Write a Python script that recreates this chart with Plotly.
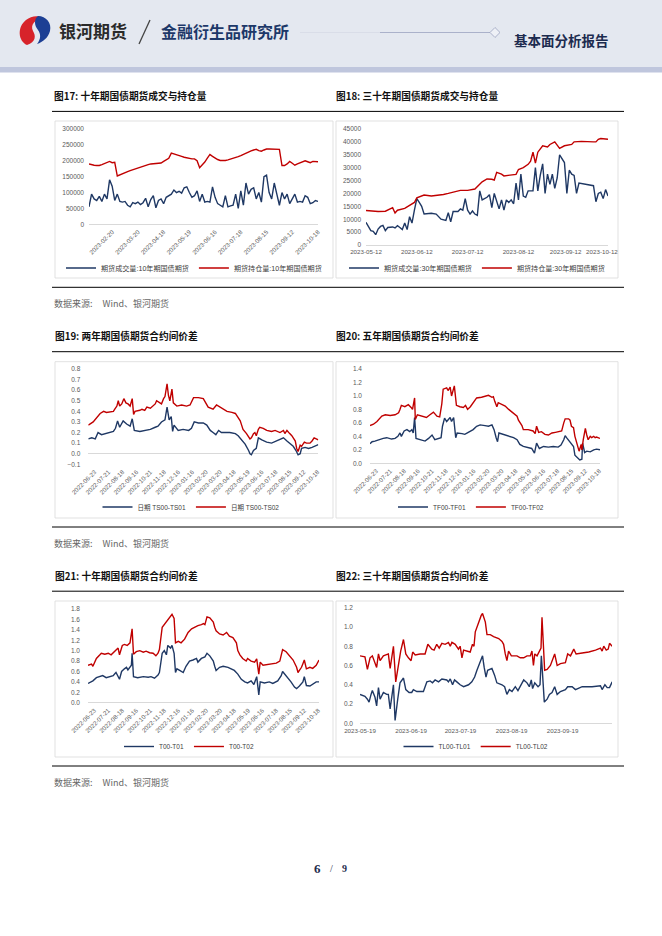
import plotly.graph_objects as go

W, H = 662, 936
def X(p): return p / W
def Y(p): return 1 - p / H

BLUE = '#1f3864'
RED = '#c00000'
FONT = 'Liberation Sans, Noto Sans CJK SC'
CJK = 'Noto Sans CJK SC'

# ---------------- data ----------------
# Fig 17 : 10Y futures volume / open interest (every 2nd trading day)
labels17 = ["2023-02-20", "2023-03-20", "2023-04-18", "2023-05-19", "2023-06-16",
            "2023-07-18", "2023-08-15", "2023-09-12", "2023-10-18"]
tickpos17 = [18, 38, 58, 78, 98, 118, 138, 158, 178]
vol17 = [55, 95, 80, 75, 88, 72, 95, 80, 140, 120,
         75, 95, 72, 70, 72, 60, 55, 68, 65, 70,
         62, 68, 82, 55, 78, 90, 52, 75, 80, 65,
         85, 90, 95, 108, 100, 104, 98, 115, 118, 100,
         85, 90, 105, 72, 95, 70, 72, 70, 118, 85,
         65, 60, 55, 90, 55, 58, 60, 95, 50, 105,
         60, 130, 95, 110, 115, 80, 100, 70, 150, 155,
         100, 80, 130, 95, 60, 100, 80, 95, 65, 80,
         95, 70, 72, 70, 90, 85, 65, 68, 75, 72]
oi17 = [190, 187, 186, 185, 185, 188, 192, 196, 198, 194,
        195, 152, 156, 160, 163, 166, 169, 172, 175, 178,
        181, 184, 186, 188, 190, 191, 193, 193, 193, 198,
        203, 208, 224, 222, 220, 217, 214, 211, 209, 207,
        206, 206, 200, 178, 186, 196, 208, 220, 214, 208,
        204, 201, 200, 201, 203, 205, 207, 210, 213, 216,
        220, 225, 228, 231, 234, 236, 232, 230, 234, 237,
        237, 237, 236, 237, 236, 185, 185, 190, 198, 192,
        186, 190, 194, 197, 200, 197, 194, 198, 197, 197]
vol17 = [v * 1000 for v in vol17]
oi17 = [v * 1000 for v in oi17]

# Fig 18 : 30Y futures volume / open interest (trading-day index)
labels18 = ["2023-05-12", "2023-06-12", "2023-07-12", "2023-08-12", "2023-09-12", "2023-10-12"]
tickpos18 = [0, 21, 42, 63, 82.5, 97.5]
day18b = [0, 1, 2, 3, 4, 5, 6, 7, 8, 9, 10, 11, 12, 13, 14, 15, 16, 17, 18, 19, 20, 21, 22, 23, 24,
          27, 29, 30, 31, 33, 34, 35, 36, 38, 39, 40, 41, 42, 43, 44, 45, 46, 47, 48, 50, 51, 52,
          53, 54, 55, 56, 57, 58, 59, 60, 61, 62, 63, 64, 65, 66, 67, 68, 69, 70, 71, 72, 73, 74,
          75, 76, 77, 78, 79, 80, 81, 82, 83, 84, 85, 86, 87, 88, 94, 95, 96, 97, 98, 99, 100]
vol18 = [8800, 7200, 5600, 5300, 4000, 6200, 7200, 7600, 5600, 6800, 7000, 7000, 6600, 7500, 6800,
         6000, 8500, 6000, 11000, 8500, 13500, 18000, 16500, 15000, 12000,
         12300, 12000, 11000, 10000, 9500, 12500, 9000, 13000, 13000, 14000, 13500, 18000, 13500,
         12000, 13200, 12000, 11500, 21000, 17500, 18500, 19500, 14500,
         20000, 17000, 14000, 17500, 13500, 17500, 16500, 17500, 16000, 24000, 17500, 27500, 19000,
         18500, 21000, 21000, 21000, 30000, 21000, 27000, 31500, 20000,
         27500, 23500, 27500, 22000, 26000, 35000, 33500, 32000, 20000, 29000, 27500, 27000, 20000,
         24000, 23000, 16800, 20000, 20500, 18000, 21500, 19000]
day18r = [0, 5, 8, 10, 11, 12, 13, 16, 18, 20, 21, 22, 24, 27, 30, 32, 34, 37, 39, 42,
          45, 48, 50, 52, 53, 54, 56, 57, 60, 62, 63, 65, 67, 68, 69, 70, 71, 73, 75, 76,
          78, 79, 80, 82, 85, 86, 89, 94, 95, 96, 97, 100]
oi18 = [13400, 13000, 13100, 14200, 14500, 12400, 13500, 14200, 15200, 16500,
        18300, 18700, 19400, 19000, 19200, 19600, 20000, 20700, 21200, 21200,
        21700, 24500, 25600, 25500, 25200, 28200, 27500, 26800, 27000, 27400,
        29300, 30000, 31300, 32500, 36000, 31800, 36000, 38500, 38000, 39000,
        40000, 38500, 37500, 38500, 39000, 40000, 40200, 40000, 40000, 41000,
        41300, 41000]

# Figs 19-21 share the same date labels (trading-day index)
labels_sp = ["2022-06-23", "2022-07-21", "2022-08-18", "2022-09-16", "2022-10-21", "2022-11-18",
             "2022-12-16", "2023-01-16", "2023-02-20", "2023-03-20", "2023-04-18", "2023-05-19",
             "2023-06-16", "2023-07-18", "2023-08-15", "2023-09-12", "2023-10-18"]
tickpos_sp = [9, 29, 49, 69, 89, 109, 129, 149, 169, 189, 209, 229, 249, 269, 289, 309, 329]

# Fig 19 : TS spreads
day19b = [0, 5, 10, 14, 19, 26, 36, 39, 42, 45, 50, 55, 60, 63, 66, 74, 84, 89, 96, 100,
          105, 110, 113, 116, 119, 121, 123, 129, 136, 144, 148, 152, 158, 165, 170, 175, 179, 183, 187, 191,
          203, 211, 215, 220, 225, 230, 232, 234, 237, 241, 244, 249, 256, 263, 270, 275, 280, 285, 289, 294,
          298, 301, 304, 306, 311, 316, 321, 325, 328, 330]
ts01 = [0.14, 0.15, 0.14, 0.20, 0.18, 0.19, 0.21, 0.24, 0.31, 0.25, 0.31, 0.28, 0.26, 0.33, 0.22, 0.21, 0.22, 0.23, 0.25, 0.26,
        0.30, 0.32, 0.44, 0.32, 0.35, 0.21, 0.27, 0.22, 0.23, 0.22, 0.24, 0.30, 0.29, 0.29, 0.27, 0.22, 0.20, 0.18, 0.22, 0.20,
        0.20, 0.19, 0.17, 0.13, 0.09, 0.03, 0.00, -0.01, 0.03, 0.05, 0.15, 0.13, 0.11, 0.10, 0.12, 0.14, 0.15, 0.12, 0.10, 0.07,
        0.03, -0.01, 0.00, 0.05, 0.06, 0.05, 0.06, 0.07, 0.08, 0.085]
day19r = [0, 5, 7, 17, 22, 26, 36, 38, 41, 43, 45, 48, 51, 54, 57, 60, 63, 65, 67, 74,
          77, 81, 84, 89, 96, 98, 103, 105, 108, 110, 113, 115, 117, 120, 122, 127, 134, 141, 146, 151,
          158, 165, 172, 179, 184, 189, 194, 199, 206, 211, 215, 218, 220, 222, 227, 232, 234, 237, 239, 241,
          244, 246, 251, 256, 263, 268, 275, 280, 282, 285, 289, 292, 297, 299, 301, 304, 306, 310, 313, 318,
          321, 324, 327, 330]
ts02 = [0.27, 0.29, 0.30, 0.38, 0.40, 0.39, 0.40, 0.42, 0.45, 0.50, 0.45, 0.47, 0.52, 0.48, 0.47, 0.45, 0.52, 0.37, 0.40, 0.41,
        0.42, 0.41, 0.44, 0.43, 0.47, 0.50, 0.48, 0.47, 0.52, 0.54, 0.66, 0.55, 0.50, 0.61, 0.48, 0.45, 0.46, 0.45, 0.46, 0.53,
        0.53, 0.52, 0.44, 0.42, 0.46, 0.44, 0.42, 0.40, 0.39, 0.38, 0.34, 0.31, 0.27, 0.23, 0.19, 0.14, 0.15, 0.19, 0.20, 0.17,
        0.23, 0.25, 0.24, 0.22, 0.21, 0.22, 0.20, 0.22, 0.19, 0.22, 0.19, 0.17, 0.12, 0.05, 0.02, 0.08, 0.07, 0.11, 0.10, 0.10,
        0.12, 0.15, 0.14, 0.13]

# Fig 20 : TF spreads
day20b = [0, 3, 7, 14, 19, 24, 31, 36, 40, 43, 45, 49, 53, 57, 60, 62, 64, 66, 72, 79,
          84, 89, 93, 99, 102, 104, 107, 110, 115, 117, 120, 123, 125, 132, 136, 141, 148, 153, 158, 165,
          170, 175, 178, 181, 183, 185, 191, 199, 206, 211, 215, 220, 227, 232, 236, 239, 243, 249, 256, 263,
          270, 274, 278, 280, 282, 285, 289, 292, 294, 298, 301, 304, 305, 308, 311, 316, 321, 325, 330]
tf01 = [0.29, 0.32, 0.33, 0.36, 0.37, 0.38, 0.36, 0.37, 0.40, 0.45, 0.40, 0.48, 0.50, 0.47, 0.50, 0.45, 0.68, 0.37, 0.35, 0.33,
        0.37, 0.42, 0.35, 0.37, 0.38, 0.55, 0.67, 0.62, 0.68, 0.62, 0.68, 0.38, 0.45, 0.44, 0.43, 0.46, 0.50, 0.55, 0.57, 0.56,
        0.55, 0.57, 0.50, 0.38, 0.32, 0.45, 0.43, 0.40, 0.38, 0.35, 0.28, 0.25, 0.23, 0.22, 0.15, 0.30, 0.22, 0.25, 0.24, 0.25,
        0.24, 0.27, 0.35, 0.41, 0.38, 0.34, 0.30, 0.25, 0.12, 0.08, 0.05, 0.06, 0.30, 0.16, 0.18, 0.17, 0.20, 0.21, 0.20]
day20r = [0, 5, 10, 17, 22, 29, 36, 41, 43, 45, 50, 55, 59, 61, 64, 65, 68, 74, 81, 86,
          91, 96, 100, 103, 105, 110, 112, 115, 117, 121, 123, 124, 129, 134, 137, 140, 144, 148, 153, 160,
          165, 170, 175, 177, 179, 182, 184, 189, 194, 199, 203, 208, 211, 213, 218, 220, 227, 234, 237, 239,
          242, 246, 251, 256, 261, 266, 270, 275, 278, 280, 285, 287, 289, 292, 294, 299, 300, 303, 304, 306,
          309, 311, 313, 316, 318, 321, 323, 325, 330]
tf02 = [0.56, 0.58, 0.62, 0.70, 0.72, 0.71, 0.72, 0.75, 0.80, 0.86, 0.84, 0.87, 0.83, 0.80, 0.97, 0.65, 0.72, 0.70, 0.68, 0.72,
        0.76, 0.70, 0.69, 0.88, 1.10, 1.12, 1.08, 1.13, 1.00, 1.15, 0.95, 0.86, 0.84, 0.83, 0.86, 0.80, 0.84, 0.90, 0.97, 0.98,
        0.99, 1.01, 0.98, 0.99, 0.92, 0.84, 0.90, 0.87, 0.85, 0.80, 0.77, 0.72, 0.70, 0.64, 0.56, 0.50, 0.50, 0.48, 0.44, 0.55,
        0.46, 0.47, 0.43, 0.42, 0.45, 0.46, 0.47, 0.48, 0.60, 0.66, 0.66, 0.64, 0.55, 0.53, 0.40, 0.22, 0.18, 0.28, 0.20, 0.35,
        0.52, 0.42, 0.35, 0.40, 0.38, 0.40, 0.38, 0.39, 0.37]

# Fig 21 : T spreads
day21b = [0, 5, 7, 12, 17, 21, 26, 31, 36, 38, 40, 45, 48, 52, 55, 57, 60, 62, 63, 65,
          71, 79, 86, 90, 95, 100, 102, 106, 109, 112, 114, 118, 120, 123, 125, 127, 131, 136, 140, 145,
          150, 155, 157, 162, 167, 170, 174, 179, 181, 183, 188, 193, 200, 205, 209, 214, 219, 224, 228, 233,
          237, 241, 244, 246, 252, 259, 264, 271, 276, 278, 283, 288, 290, 295, 298, 302, 307, 309, 312, 317,
          321, 326, 330]
t01 = [0.37, 0.40, 0.42, 0.48, 0.50, 0.52, 0.48, 0.50, 0.52, 0.55, 0.58, 0.45, 0.60, 0.65, 0.68, 0.63, 0.70, 0.72, 0.95, 0.50,
       0.48, 0.50, 0.49, 0.50, 0.47, 0.53, 0.58, 0.95, 1.00, 0.92, 1.10, 1.05, 1.10, 0.95, 0.58, 0.65, 0.62, 0.58, 0.70, 0.80,
       0.82, 0.85, 0.78, 0.85, 0.88, 0.95, 0.90, 0.80, 0.70, 0.62, 0.68, 0.70, 0.68, 0.65, 0.62, 0.55, 0.45, 0.40, 0.38, 0.42,
       0.35, 0.50, 0.15, 0.40, 0.38, 0.40, 0.37, 0.42, 0.52, 0.60, 0.52, 0.45, 0.40, 0.30, 0.27, 0.32, 0.40, 0.50, 0.33, 0.32,
       0.36, 0.40, 0.40]
day21r = [0, 5, 7, 10, 12, 17, 19, 24, 29, 33, 38, 43, 45, 49, 52, 56, 60, 63, 65, 69,
          74, 79, 83, 88, 93, 97, 100, 102, 106, 109, 112, 115, 118, 120, 123, 125, 129, 133, 138, 143,
          148, 152, 157, 162, 165, 167, 170, 174, 179, 181, 183, 188, 193, 198, 202, 207, 212, 214, 217, 221,
          226, 228, 233, 238, 241, 244, 246, 250, 257, 264, 269, 274, 276, 278, 283, 288, 293, 298, 300, 302,
          305, 307, 309, 312, 317, 321, 326, 330]
t02 = [0.72, 0.74, 0.70, 0.78, 0.85, 0.92, 0.95, 0.93, 0.95, 0.92, 0.98, 1.05, 0.92, 1.10, 1.12, 1.10, 1.15, 1.42, 0.93, 0.98,
       1.00, 0.97, 0.99, 0.96, 0.95, 0.90, 0.95, 1.02, 1.45, 1.50, 1.55, 1.60, 1.65, 1.70, 1.62, 1.15, 1.18, 1.15, 1.22, 1.35,
       1.42, 1.45, 1.48, 1.50, 1.52, 1.50, 1.65, 1.63, 1.55, 1.45, 1.38, 1.32, 1.30, 1.35, 1.28, 1.25, 1.15, 1.00, 0.92, 0.85,
       0.80, 0.85, 0.80, 0.78, 0.84, 0.55, 0.78, 0.72, 0.73, 0.75, 0.76, 0.80, 0.90, 1.02, 0.98, 0.90, 0.82, 0.68, 0.58, 0.62,
       0.68, 0.75, 0.82, 0.65, 0.68, 0.66, 0.72, 0.82]

# Fig 22 : TL spreads (calendar days since 2023-05-19)
labels22 = ["2023-05-19", "2023-06-19", "2023-07-19", "2023-08-19", "2023-09-19"]
tickpos22 = [0, 31, 61, 92, 123]
day22b = [0.0, 3.0, 4.5, 5.5, 6.7, 7.5, 9.1, 10.1, 11.2, 12.2, 14.2, 16.2, 17.2, 18.3, 20.3, 21.3, 22.9, 24.3, 26.4, 27.8,
          29.8, 31.4, 32.4, 34.5, 38.5, 40.6, 42.6, 44.0, 45.6, 47.7, 49.7, 52.7, 53.7, 54.8, 56.2, 57.4, 58.8, 60.8, 62.9, 65.9,
          67.9, 69.6, 71.0, 73.0, 74.4, 75.4, 76.5, 77.5, 80.1, 81.7, 83.1, 86.2, 87.8, 89.2, 90.7, 92.3, 94.3, 95.9, 97.3, 99.4,
          101.4, 102.8, 104.0, 104.8, 106.1, 108.1, 109.3, 110.1, 110.5, 111.9, 113.6, 115.0, 116.6, 118.2, 119.7, 121.7, 124.7,
          126.1, 128.8, 130.8, 134.9, 140.9, 146.0, 147.0, 148.7, 150.1, 151.5, 152.3, 153.1]
tl01 = [0.30, 0.28, 0.25, 0.22, 0.30, 0.34, 0.27, 0.18, 0.37, 0.25, 0.32, 0.30, 0.30, 0.15, 0.40, 0.03, 0.25, 0.42, 0.47, 0.35,
        0.32, 0.32, 0.35, 0.33, 0.33, 0.43, 0.44, 0.42, 0.45, 0.43, 0.46, 0.45, 0.43, 0.46, 0.40, 0.45, 0.43, 0.40, 0.38, 0.40,
        0.43, 0.48, 0.55, 0.65, 0.70, 0.58, 0.48, 0.55, 0.57, 0.50, 0.42, 0.40, 0.38, 0.30, 0.35, 0.33, 0.38, 0.34, 0.38, 0.45,
        0.42, 0.38, 0.45, 0.36, 0.42, 0.38, 0.40, 0.70, 0.60, 0.22, 0.25, 0.30, 0.32, 0.38, 0.30, 0.33, 0.35,
        0.38, 0.38, 0.35, 0.38, 0.38, 0.39, 0.35, 0.40, 0.37, 0.37, 0.40, 0.43]
day22r = [0.0, 3.0, 4.5, 6.1, 7.5, 9.1, 10.1, 11.2, 12.2, 14.2, 16.2, 17.2, 18.3, 20.3, 21.7, 23.3, 24.7, 26.4, 27.8, 29.4,
          31.0, 32.0, 33.5, 36.5, 39.5, 41.2, 43.6, 45.0, 46.6, 48.1, 49.7, 51.7, 53.7, 54.8, 55.8, 57.8, 59.8, 60.8, 61.9, 62.9,
          64.9, 66.9, 68.3, 69.2, 70.0, 72.0, 73.6, 74.4, 76.1, 77.1, 79.1, 81.1, 84.2, 86.2, 87.2, 88.2, 89.2, 90.2, 91.9, 95.3,
          97.3, 99.4, 101.4, 103.4, 104.4, 105.3, 106.1, 107.5, 108.9, 109.9, 110.5, 110.9, 112.1, 113.6, 115.6, 118.2, 119.7,
          121.7, 124.7, 126.1, 127.8, 129.8, 131.2, 134.9, 138.9, 143.0, 146.0, 147.0, 148.0, 149.5, 150.7, 151.5, 153.1]
tl02 = [0.70, 0.69, 0.56, 0.68, 0.70, 0.62, 0.58, 0.72, 0.65, 0.70, 0.71, 0.72, 0.57, 0.80, 0.43, 0.62, 0.75, 0.87, 0.72, 0.68,
        0.65, 0.74, 0.71, 0.72, 0.72, 0.82, 0.77, 0.76, 0.82, 0.78, 0.83, 0.82, 0.84, 0.80, 0.84, 0.82, 0.77, 0.80, 0.68, 0.76,
        0.75, 0.74, 0.82, 0.80, 0.95, 1.05, 1.12, 1.14, 1.05, 0.92, 0.92, 0.90, 0.88, 0.85, 0.82, 0.72, 0.65, 0.75, 0.70, 0.70,
        0.68, 0.68, 0.70, 0.70, 0.75, 0.60, 0.72, 0.70, 0.74, 0.78, 1.10, 0.95, 0.55, 0.56, 0.60, 0.72, 0.60,
        0.62, 0.63, 0.72, 0.70, 0.77, 0.72, 0.73, 0.74, 0.76, 0.78, 0.75, 0.80, 0.76, 0.77, 0.83, 0.80]

# ---------------- figure ----------------
fig = go.Figure()

charts = [
    dict(xd=(89, 318), yd=(129, 224.3), xr=[0, 178], yr=[0, 300000], dtick=50000, fmt='d',
         tv=tickpos17, tt=labels17, ang=-45, ysoff=4, leg=(194, 268), lsize=7.1),
    dict(xd=(366, 608), yd=(129, 245), xr=[0, 100], yr=[0, 45000], dtick=5000, fmt='d',
         tv=tickpos18, tt=labels18, ang=0, ysoff=4, leg=(477, 268), lsize=7.1),
    dict(xd=(88.3, 318.3), yd=(369, 464.3), xr=[0, 330], yr=[-0.1, 0.8], dtick=0.1, fmt='.1f',
         tv=tickpos_sp, tt=labels_sp, ang=-45, ysoff=7, leg=(191, 507), lsize=6.5),
    dict(xd=(370, 600), yd=(369, 463.3), xr=[0, 330], yr=[0, 1.4], dtick=0.2, fmt='.1f',
         tv=tickpos_sp, tt=labels_sp, ang=-45, ysoff=7, leg=(471, 507), lsize=6.5),
    dict(xd=(88, 319), yd=(609, 702.7), xr=[0, 330], yr=[0, 1.8], dtick=0.2, fmt='.1f',
         tv=tickpos_sp, tt=labels_sp, ang=-45, ysoff=7, leg=(189, 746.5), lsize=6.5),
    dict(xd=(360, 612), yd=(607.7, 723.3), xr=[0, 153], yr=[0, 1.2], dtick=0.2, fmt='.1f',
         tv=tickpos22, tt=labels22, ang=0, ysoff=6, leg=(476, 746.5), lsize=6.5),
]

series = [
    (0, list(range(0, 2 * len(vol17), 2)), vol17, '期货成交量:10年期国债期货', BLUE),
    (0, list(range(0, 2 * len(oi17), 2)), oi17, '期货持仓量:10年期国债期货', RED),
    (1, day18b, vol18, '期货成交量:30年期国债期货', BLUE),
    (1, day18r, oi18, '期货持仓量:30年期国债期货', RED),
    (2, day19b, ts01, '日期 TS00-TS01', BLUE),
    (2, day19r, ts02, '日期 TS00-TS02', RED),
    (3, day20b, tf01, 'TF00-TF01', BLUE),
    (3, day20r, tf02, 'TF00-TF02', RED),
    (4, day21b, t01, 'T00-T01', BLUE),
    (4, day21r, t02, 'T00-T02', RED),
    (5, day22b, tl01, 'TL00-TL01', BLUE),
    (5, day22r, tl02, 'TL00-TL02', RED),
]

ytickfont = dict(family=FONT, size=6.5, color='#595959')
xtickfont = dict(family=FONT, size=6.2, color='#595959')
for i, c in enumerate(charts):
    n = '' if i == 0 else str(i + 1)
    fig.layout['xaxis' + n] = dict(
        domain=[X(c['xd'][0]), X(c['xd'][1])], range=c['xr'], anchor='y' + n,
        tickmode='array', tickvals=c['tv'], ticktext=c['tt'], tickangle=c['ang'],
        showgrid=False, zeroline=False, showline=False, ticks='', tickfont=xtickfont,
        ticklabelstandoff=2, fixedrange=True, automargin=False)
    fig.layout['yaxis' + n] = dict(
        domain=[Y(c['yd'][1]), Y(c['yd'][0])], range=c['yr'], anchor='x' + n,
        dtick=c['dtick'], tick0=0, tickformat=c['fmt'], showgrid=False,
        zeroline=True, zerolinecolor='#d9d9d9', zerolinewidth=1, showline=False,
        ticks='', tickfont=ytickfont, ticklabelstandoff=c['ysoff'], fixedrange=True,
        automargin=False)
    lname = 'legend' + n
    fig.layout[lname] = dict(
        orientation='h', x=X(c['leg'][0]), y=Y(c['leg'][1]), xanchor='center', yanchor='middle',
        font=dict(family=FONT, size=c['lsize'], color='#404040'), bgcolor='rgba(0,0,0,0)',
        itemwidth=30, tracegroupgap=0)

for ci, xs, ys, name, col in series:
    n = '' if ci == 0 else str(ci + 1)
    fig.add_trace(go.Scatter(x=xs, y=ys, mode='lines', name=name,
                             line=dict(color=col, width=1.4),
                             xaxis='x' + n, yaxis='y' + n, legend='legend' + n,
                             hoverinfo='skip'))

# ---------------- page decoration ----------------
shapes = []
def rect(x0, y0, x1, y1, fill=None, line=None, lw=0.8, layer='below'):
    shapes.append(dict(type='rect', xref='paper', yref='paper', x0=X(x0), x1=X(x1),
                       y0=Y(y1), y1=Y(y0), fillcolor=fill or 'rgba(0,0,0,0)',
                       line=dict(color=line or 'rgba(0,0,0,0)', width=lw if line else 0),
                       layer=layer))
def hline(x0, x1, y, color='#000', w=1):
    shapes.append(dict(type='line', xref='paper', yref='paper', x0=X(x0), x1=X(x1),
                       y0=Y(y), y1=Y(y), line=dict(color=color, width=w)))
def path(cmds, fill, line=None, lw=0):
    s = ''
    for c, pts in cmds:
        s += c + ' '.join(f'{X(a):.5f},{Y(b):.5f}' for a, b in pts) + ' '
    shapes.append(dict(type='path', xref='paper', yref='paper', path=s.strip(),
                       fillcolor=fill, line=dict(color=line or 'rgba(0,0,0,0)', width=lw)))

# header
rect(0, 0, 662, 67, fill='#e4e8f0')
rect(0, 67, 662, 72.5, fill='#bfc6dd')
hline(300, 380, 32.5, color='#d9dde8', w=1)
hline(380, 490, 32.5, color='#aab1ca', w=1)
path([('M', [(490, 32.5)]), ('L', [(495, 27.5)]), ('L', [(500, 32.5)]), ('L', [(495, 37.5)]), ('Z', [])],
     fill='#eef0f6', line='#9aa2bf', lw=0.8)
# logo
path([('M', [(27, 45)]), ('C', [(18, 41), (17, 27), (26, 20)]), ('C', [(31, 16), (38, 15), (43, 18)]),
      ('C', [(35, 19), (30, 25), (33, 31)]), ('C', [(36, 36), (36, 42), (27, 45)]), ('Z', [])], fill='#d7232a')
path([('M', [(38, 16)]), ('C', [(46, 16), (52, 23), (50, 31)]), ('C', [(48, 38), (43, 42), (37, 44)]),
      ('C', [(41, 39), (41, 34), (38, 30)]), ('C', [(34, 25), (34, 19), (38, 16)]), ('Z', [])], fill='#1c3f94')
shapes.append(dict(type='line', xref='paper', yref='paper', x0=X(150), y0=Y(20), x1=X(139), y1=Y(44),
                   line=dict(color='#444444', width=1.3)))

# separator lines
for yy in [111.4, 287.3, 351.7, 527, 591.2, 766]:
    hline(52, 624, yy, color='#000000', w=1)
# chart boxes
for (t, b) in [(121, 278), (361.7, 518), (601, 757)]:
    rect(55, t, 333, b, fill='#ffffff', line='#d9d9d9', lw=0.8)
    rect(336, t, 618, b, fill='#ffffff', line='#d9d9d9', lw=0.8)

fig.update_layout(shapes=shapes)

ann = []
def text(x, y, s, size, color, family=CJK, xanchor='left', bold=False):
    ann.append(dict(x=X(x), y=Y(y), xref='paper', yref='paper', text=('<b>%s</b>' % s) if bold else s,
                    showarrow=False, xanchor=xanchor, yanchor='middle',
                    font=dict(family=family, size=size, color=color), borderpad=0))

text(58, 31, '银河期货', 17, '#2a2a2a', bold=True)
text(160, 31, '金融衍生品研究所', 16, '#1d3869', bold=True)
text(513, 40, '基本面分析报告', 13.5, '#1c2b4f', bold=True)

titles = [(53, 95.7, '图17: 十年期国债期货成交与持仓量'), (335, 95.7, '图18: 三十年期国债期货成交与持仓量'),
          (54, 336, '图19: 两年期国债期货合约间价差'), (335, 336, '图20: 五年期国债期货合约间价差'),
          (54, 575.5, '图21: 十年期国债期货合约间价差'), (335, 575.5, '图22: 三十年期国债期货合约间价差')]
for x, y, s in titles:
    text(x, y, s, 9.7, '#111111', bold=True)
for y in [304, 543.5, 782.5]:
    text(52.5, y, '数据来源:\u00a0\u00a0\u00a0\u00a0 Wind、银河期货', 9, '#666666')

text(317, 868, '6', 13, '#1f2d4d', family='Liberation Serif', xanchor='center', bold=True)
text(331, 868, '/', 10, '#1f2d4d', family='Liberation Serif', xanchor='center')
text(344.5, 868.5, '9', 10, '#1f2d4d', family='Liberation Serif', xanchor='center', bold=True)

fig.update_layout(annotations=ann, width=W, height=H,
                  margin=dict(l=0, r=0, t=0, b=0, pad=0, autoexpand=False),
                  paper_bgcolor='#ffffff', plot_bgcolor='rgba(0,0,0,0)', showlegend=True)

fig.write_html('out.html', config={'displayModeBar': False},
               post_script="document.body.style.margin='0px';"
                           "document.documentElement.style.overflow='hidden';"
                           "document.body.style.overflow='hidden';")
